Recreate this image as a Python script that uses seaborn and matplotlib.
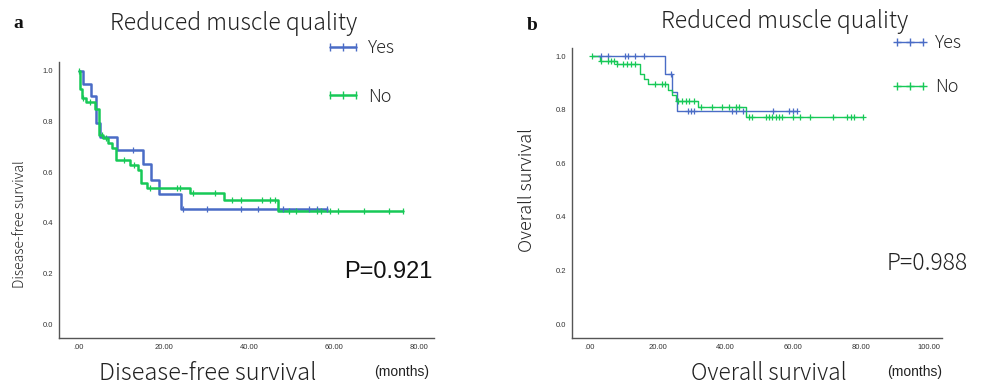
import numpy as np
import pandas as pd
import matplotlib
matplotlib.use("Agg")
import matplotlib.pyplot as plt
import seaborn as sns
from matplotlib.lines import Line2D

# Panel a: disease-free survival (months)
dfs_yes_times = [0, 0.9, 2.8, 4.0, 5.0, 8.9, 15.0, 17.0, 18.8, 23.9]
dfs_yes_surv = [1.0, 0.95, 0.90, 0.795, 0.74, 0.688, 0.632, 0.57, 0.514, 0.455]
dfs_yes_end = 58.3
dfs_yes_cens = [12.8, 24.5, 30, 38, 42, 48, 54, 56, 58.3]

dfs_no_times = [0, 0.2, 0.6, 1.7, 3.8, 4.8, 5.7, 6.9, 7.8, 8.7, 12.0, 13.8, 14.7,
                15.9, 26.0, 34.0, 46.9]
dfs_no_surv = [1.0, 0.927, 0.894, 0.879, 0.848, 0.747, 0.733, 0.714, 0.694, 0.648,
               0.628, 0.61, 0.556, 0.537, 0.517, 0.49, 0.448]
dfs_no_end = 76.2
dfs_no_cens = [0.0, 0.9, 2.5, 5.3, 6.3, 10.5, 13.0, 16.7, 23, 23.8, 26.9, 32, 36, 38,
               43, 45, 46, 49.5, 51, 56, 57, 59, 61, 67, 73, 76.2]

# Panel b: overall survival (months)
os_yes_times = [0.5, 22.1, 24.1, 25.6]
os_yes_surv = [1.0, 0.933, 0.867, 0.795]
os_yes_end = 61
os_yes_cens = [3.2, 5.2, 10.3, 11.1, 13.3, 16, 23.9, 28.8, 29.7, 30.7, 42, 43, 45,
               54, 58.8, 60, 61]

os_no_times = [0.5, 2.9, 7.9, 14.7, 15.8, 17.0, 23.0, 24.3, 25.5, 32.0, 45.9]
os_no_surv = [1.0, 0.983, 0.969, 0.933, 0.915, 0.895, 0.873, 0.855, 0.834, 0.81, 0.771]
os_no_end = 80.6
os_no_cens = [0.6, 3.2, 5.2, 6.2, 7.2, 8, 9.8, 11, 12, 13.3, 19.2, 21.1, 22.1, 25.9,
              27, 28.3, 29.3, 30.7, 32.7, 36, 38.8, 41, 43, 44, 46.9, 47.7, 51.8, 52.8,
              53.8, 54.8, 55.7, 56.7, 60, 61.8, 64.9, 71.8, 75.7, 77, 77.9, 80.6]

BLUE = "#4a6cc6"
GREEN = "#17c957"
JP = ["Noto Sans CJK JP", "DejaVu Sans"]
ARIAL = ["Liberation Sans", "DejaVu Sans"]


def km_frames(times, surv, end, cens):
    """step curve and censor marks for one group"""
    curve = pd.DataFrame({"t": list(times) + [end], "s": list(surv) + [surv[-1]]})
    idx = np.searchsorted(times, cens, side="right") - 1
    marks = pd.DataFrame({"t": cens, "s": np.array(surv)[np.clip(idx, 0, None)]})
    return curve, marks


def draw_panel(ax, groups, lw, marker, msize, xlim, ylim, xticks):
    for times, surv, end, cens, color in groups:
        curve, marks = km_frames(times, surv, end, cens)
        sns.lineplot(data=curve, x="t", y="s", ax=ax, color=color, lw=lw,
                     drawstyle="steps-post", estimator=None, sort=False)
        sns.scatterplot(data=marks, x="t", y="s", ax=ax, color=color, marker=marker,
                        s=msize, linewidth=0.9, zorder=3)
    ax.set_xlim(*xlim)
    ax.set_ylim(*ylim)
    ax.set_xticks(xticks)
    ax.set_xticklabels([".00" if v == 0 else f"{v:.2f}" for v in xticks],
                       family=ARIAL, fontsize=5.5)
    yt = [0.0, 0.2, 0.4, 0.6, 0.8, 1.0]
    ax.set_yticks(yt)
    ax.set_yticklabels([f"{v:.1f}" for v in yt], family=ARIAL, fontsize=5.5)
    ax.tick_params(axis="y", length=3, width=0.8, color="#444", pad=1, labelcolor="#333")
    ax.tick_params(axis="x", length=0, pad=4, labelcolor="#333")
    ax.set_xlabel("")
    ax.set_ylabel("")
    for side in ["top", "right"]:
        ax.spines[side].set_visible(False)
    for side in ["left", "bottom"]:
        ax.spines[side].set_color("#555")
        ax.spines[side].set_linewidth(1.0)
    ax.grid(False)


sns.set_theme(style="white")
fig = plt.figure(figsize=(9.84, 3.85), dpi=100)

W, H = 984.0, 385.0
ax_a = fig.add_axes([59 / W, 1 - 338 / H, (434 - 59) / W, (338 - 62) / H])
ax_b = fig.add_axes([572 / W, 1 - 338 / H, (942 - 572) / W, (338 - 48) / H])

draw_panel(ax_a,
           [(dfs_yes_times, dfs_yes_surv, dfs_yes_end, dfs_yes_cens, BLUE),
            (dfs_no_times, dfs_no_surv, dfs_no_end, dfs_no_cens, GREEN)],
           lw=1.8, marker="|", msize=14, xlim=(-4.7, 83.5), ylim=(-0.055, 1.035),
           xticks=[0, 20, 40, 60, 80])
draw_panel(ax_b,
           [(os_yes_times, os_yes_surv, os_yes_end, os_yes_cens, BLUE),
            (os_no_times, os_no_surv, os_no_end, os_no_cens, GREEN)],
           lw=1.0, marker="+", msize=14, xlim=(-5.3, 103.8), ylim=(-0.052, 1.03),
           xticks=[0, 20, 40, 60, 80, 100])

# legends
for ax, lw, marker, anchor, spacing in [
    (ax_a, 1.8, "|", (325 / W, 1 - 39 / H), 1.7),
    (ax_b, 1.0, "+", (892 / W, 1 - 34 / H), 1.45),
]:
    handles = [Line2D([], [], color=c, lw=lw, marker=marker, markersize=6,
                      markeredgewidth=1.0) for c in (BLUE, GREEN)]
    ax.legend(handles, ["Yes", "No"], loc="upper left", bbox_to_anchor=anchor,
              bbox_transform=fig.transFigure, frameon=False, numpoints=3,
              handlelength=2.0, handletextpad=0.4, labelspacing=spacing,
              borderpad=0, borderaxespad=0,
              prop={"family": JP, "size": 13, "weight": "light"})

# titles, panel letters, axis labels
dark = "#222222"
txt = dict(ha="center", va="center", family=JP, color=dark, fontweight="light")
fig.text(234 / W, 1 - 23 / H, "Reduced muscle quality", fontsize=16.5, **txt)
fig.text(785 / W, 1 - 22 / H, "Reduced muscle quality", fontsize=16.5, **txt)
fig.text(18 / W, 1 - 24 / H, "a", ha="center", va="center", family="Liberation Serif",
         fontweight="bold", fontsize=14, color="#111")
fig.text(532 / W, 1 - 25 / H, "b", ha="center", va="center", family="Liberation Serif",
         fontweight="bold", fontsize=14, color="#111")

fig.text(208 / W, 1 - 373 / H, "Disease-free survival", fontsize=17, **txt)
fig.text(402 / W, 1 - 372 / H, "(months)", ha="center", va="center",
         family=ARIAL, fontsize=10, color=dark)
fig.text(769 / W, 1 - 373 / H, "Overall survival", fontsize=16.3, **txt)
fig.text(915 / W, 1 - 372 / H, "(months)", ha="center", va="center",
         family=ARIAL, fontsize=10, color=dark)

fig.text(20 / W, 1 - 224 / H, "Disease-free survival", rotation=90, fontsize=10, **txt)
fig.text(527 / W, 1 - 190 / H, "Overall survival", rotation=90, fontsize=13, **txt)

fig.text(388 / W, 1 - 272 / H, "P=0.921", ha="center", va="center",
         family=ARIAL, fontsize=17, color="#111")
fig.text(927 / W, 1 - 263 / H, "P=0.988", fontsize=16.5, **txt)

fig.savefig("out.png", dpi=100)
